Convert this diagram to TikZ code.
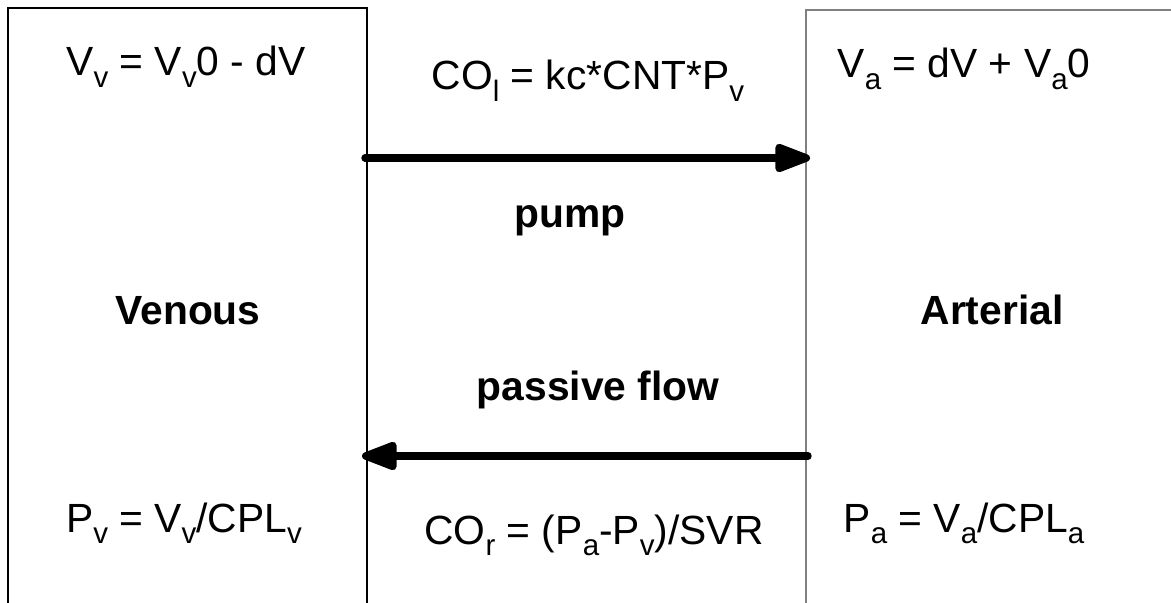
\documentclass[tikz,border=0pt]{standalone}
\usepackage{fontspec}
\setmainfont{Liberation Sans}
\usetikzlibrary{arrows.meta}
\newcommand{\subtxt}[1]{\raisebox{-0.28em}{\fontsize{21}{21}\selectfont #1}}
\begin{document}
\begin{tikzpicture}[every node/.style={font=\fontsize{29}{35}\selectfont, inner sep=0pt, anchor=base},
  flow/.style={line width=5.3pt, line cap=round, -{Triangle[length=30pt, width=21pt, round]}}]
\useasboundingbox (0,0) rectangle (29.275,-15.075);
\draw[line width=1pt] (0.2,-15.075) -- (0.2,-0.2) -- (9.175,-0.2) -- (9.175,-15.075);
\draw[line width=1.4pt, gray] (20.15,-15.075) -- (20.15,-0.25) -- (29.275,-0.25);
\node (vvol) at (4.65,-1.9) {V\subtxt{v} = V\subtxt{v}0 - dV};
\node (col) at (14.7,-2.25) {CO\subtxt{l} = kc*CNT*P\subtxt{v}};
\node (avol) at (24.1,-1.95) {V\subtxt{a} = dV + V\subtxt{a}0};
\node[font=\fontsize{29}{35}\selectfont\bfseries] (pump) at (14.25,-5.7) {pump};
\node[font=\fontsize{29}{35}\selectfont\bfseries] (venous) at (4.7,-8.1) {Venous};
\node[font=\fontsize{29}{35}\selectfont\bfseries] (arterial) at (24.8,-8.1) {Arterial};
\node[font=\fontsize{29}{35}\selectfont\bfseries] (passive) at (14.95,-10.0) {passive flow};
\node (vpres) at (4.6,-13.3) {P\subtxt{v} = V\subtxt{v}/CPL\subtxt{v}};
\node (cor) at (14.85,-13.6) {CO\subtxt{r} = (P\subtxt{a}-P\subtxt{v})/SVR};
\node (apres) at (24.1,-13.3) {P\subtxt{a} = V\subtxt{a}/CPL\subtxt{a}};
\coordinate (pumpin) at (9.125,-3.95);
\coordinate (pumpout) at (20.25,-3.95);
\coordinate (backin) at (20.2,-11.4);
\coordinate (backout) at (9.05,-11.4);
\draw[flow] (pumpin) -- (pumpout);
\draw[flow] (backin) -- (backout);
\end{tikzpicture}
\end{document}
